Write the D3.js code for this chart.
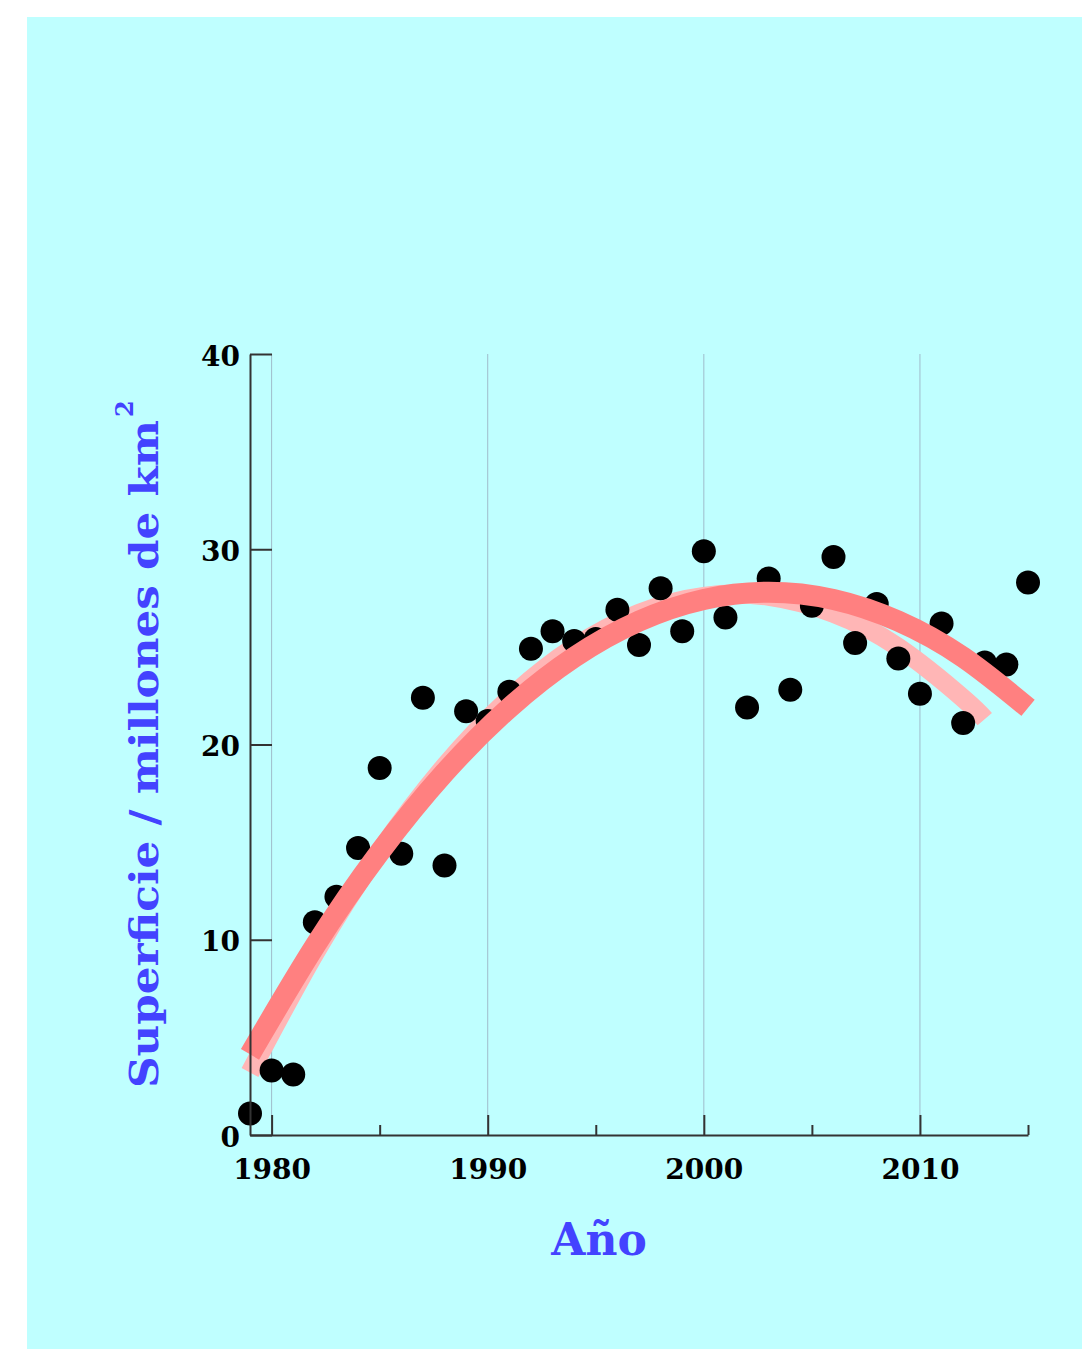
<!DOCTYPE html>
<html>
<head>
<meta charset="utf-8">
<script src="https://cdn.jsdelivr.net/npm/d3@7/dist/d3.min.js"></script>
<style>
  html, body { margin: 0; padding: 0; background: #ffffff; }
  svg { display: block; }
  text { font-family: "DejaVu Serif", Georgia, serif; font-weight: bold; }
</style>
</head>
<body>
<svg id="chart" width="1082" height="1349"></svg>
<script>
// ---- data ----
const years = [1979,1980,1981,1982,1983,1984,1985,1986,1987,1988,1989,1990,1991,1992,1993,1994,1995,1996,1997,1998,1999,2000,2001,2002,2003,2004,2005,2006,2007,2008,2009,2010,2011,2012,2013,2014,2015];
const area  = [1.1,3.3,3.1,10.9,12.2,14.7,18.8,14.4,22.4,13.8,21.7,21.2,22.7,24.9,25.8,25.3,25.4,26.9,25.1,28.0,25.8,29.9,26.5,21.9,28.5,22.8,27.1,29.6,25.2,27.2,24.4,22.6,26.2,21.1,24.2,24.1,28.3];

// fitted trend curves
const fitAllYears   = [1979,1982,1985,1988,1991,1994,1997,2000,2003,2006,2009,2012,2015];
const fitAllValues  = [4.13,9.67,14.48,18.55,21.88,24.47,26.32,27.43,27.8,27.43,26.32,24.47,21.88];
const fitPartYears  = [1979,1982,1985,1988,1991,1994,1997,2000,2003,2006,2009,2012,2013];
const fitPartValues = [3.2,9.3,14.52,18.88,22.36,24.98,26.72,27.59,27.59,26.72,24.98,22.36,21.3];

const xMajorTicks = [1980,1990,2000,2010];
const xMinorTicks = [1985,1995,2005,2015];
const yTicks = [0,10,20,30,40];

const xLabel = "Año";
const yLabel = "Superficie / millones de km";

// ---- drawing ----
const svg = d3.select("#chart");
svg.append("rect").attr("x", 27).attr("y", 17).attr("width", 1082 - 27).attr("height", 1349 - 17).attr("fill", "#bfffff");

const x = d3.scaleLinear().domain([1979, 2015]).range([250, 1028]);
const y = d3.scaleLinear().domain([0, 40]).range([1135, 354]);

// gridlines
svg.append("g").selectAll("line").data(xMajorTicks).join("line")
  .attr("x1", d => x(d)).attr("x2", d => x(d))
  .attr("y1", y(40)).attr("y2", y(0))
  .attr("stroke", "#9fbccb").attr("stroke-width", 1);

// light trend curve
const line = d3.line().curve(d3.curveNatural);
svg.append("path")
  .attr("d", line(fitPartYears.map((d, i) => [x(d), y(fitPartValues[i])])))
  .attr("fill", "none").attr("stroke", "#ffb6b6").attr("stroke-width", 19);

// points
svg.append("g").selectAll("circle").data(years).join("circle")
  .attr("cx", d => x(d)).attr("cy", (d, i) => y(area[i])).attr("r", 12)
  .attr("fill", "#000");

// dark trend curve
svg.append("path")
  .attr("d", line(fitAllYears.map((d, i) => [x(d), y(fitAllValues[i])])))
  .attr("fill", "none").attr("stroke", "#ff8080").attr("stroke-width", 21);

// axes
const yAxis = svg.append("g").attr("transform", `translate(${x(1979)},0)`)
  .call(d3.axisLeft(y).tickValues(yTicks).tickFormat(d3.format("d")).tickSizeInner(-22).tickSizeOuter(0).tickPadding(10));
yAxis.selectAll("text").attr("font-size", 28).attr("fill", "#000").attr("dy", "0.4em");

const xAxis = svg.append("g").attr("transform", `translate(0,${y(0)})`)
  .call(d3.axisBottom(x).tickValues(xMajorTicks).tickFormat(d3.format("d")).tickSizeInner(-20).tickSizeOuter(0).tickPadding(24));
xAxis.selectAll("text").attr("font-size", 28).attr("fill", "#000");

const xMinor = svg.append("g").attr("transform", `translate(0,${y(0)})`)
  .call(d3.axisBottom(x).tickValues(xMinorTicks).tickFormat("").tickSizeInner(-10).tickSizeOuter(0));
xMinor.select(".domain").remove();

svg.selectAll(".domain, .tick line").attr("stroke", "#333").attr("stroke-width", 2);

// axis titles
svg.append("text").attr("x", 599).attr("y", 1255).attr("text-anchor", "middle")
  .attr("font-size", 44).attr("fill", "#4343ff").text(xLabel);

svg.append("text").attr("transform", "translate(158,1088) rotate(-90)")
  .attr("font-size", 40).attr("fill", "#4343ff")
  .attr("textLength", 668).attr("lengthAdjust", "spacingAndGlyphs")
  .text(yLabel);
svg.append("text").attr("transform", "translate(133,417) rotate(-90)")
  .attr("font-size", 24).attr("fill", "#4343ff").text("2");
</script>
</body>
</html>
